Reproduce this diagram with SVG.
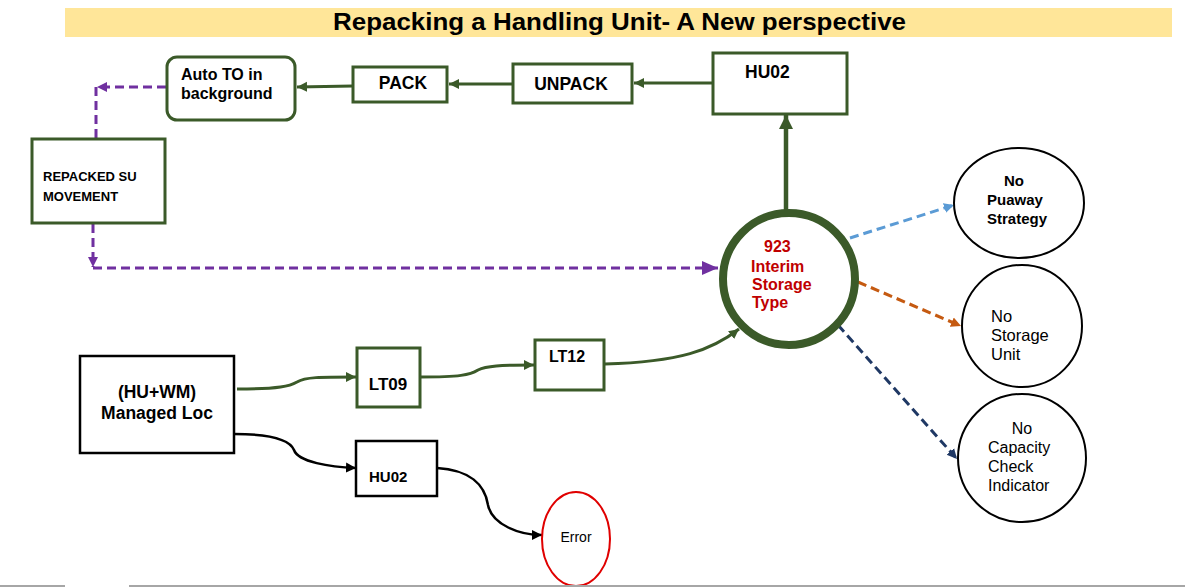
<svg xmlns="http://www.w3.org/2000/svg" width="1185" height="587" viewBox="0 0 1185 587">
<defs>
<style>
.b{font-family:"Liberation Sans",Arial,sans-serif;font-weight:bold;fill:#000}
.r{font-family:"Liberation Sans",Arial,sans-serif;fill:#000}
.red{fill:#C00000}
.gbox{fill:#fff;stroke:#3B5A29;stroke-width:3}
.kbox{fill:#fff;stroke:#000;stroke-width:2.5}
.g{fill:none;stroke:#3B5A29;stroke-width:3}
.k{fill:none;stroke:#000;stroke-width:2.5}
.p{fill:none;stroke:#7030A0;stroke-width:3;stroke-dasharray:9 5}
</style>
<marker id="ag" markerUnits="userSpaceOnUse" markerWidth="12" markerHeight="12" refX="10" refY="6" orient="auto"><path d="M0,1 L10,6 L0,11 Z" fill="#3B5A29"/></marker>
<marker id="agb" markerUnits="userSpaceOnUse" markerWidth="16" markerHeight="16" refX="14" refY="8" orient="auto"><path d="M0,1 L14,8 L0,15 Z" fill="#3B5A29"/></marker>
<marker id="ak" markerUnits="userSpaceOnUse" markerWidth="12" markerHeight="12" refX="10" refY="6" orient="auto"><path d="M0,1 L10,6 L0,11 Z" fill="#000"/></marker>
<marker id="ap" markerUnits="userSpaceOnUse" markerWidth="12" markerHeight="12" refX="10" refY="6" orient="auto"><path d="M0,1 L10,6 L0,11 Z" fill="#7030A0"/></marker>
<marker id="apb" markerUnits="userSpaceOnUse" markerWidth="18" markerHeight="18" refX="16" refY="9" orient="auto"><path d="M0,2 L16,9 L0,16 Z" fill="#7030A0"/></marker>
<marker id="ab" markerUnits="userSpaceOnUse" markerWidth="12" markerHeight="12" refX="10" refY="6" orient="auto"><path d="M0,1 L10,6 L0,11 Z" fill="#5B9BD5"/></marker>
<marker id="ao" markerUnits="userSpaceOnUse" markerWidth="12" markerHeight="12" refX="10" refY="6" orient="auto"><path d="M0,1 L10,6 L0,11 Z" fill="#C55A11"/></marker>
<marker id="an" markerUnits="userSpaceOnUse" markerWidth="12" markerHeight="12" refX="10" refY="6" orient="auto"><path d="M0,1 L10,6 L0,11 Z" fill="#1F3864"/></marker>
</defs>
<rect width="1185" height="587" fill="#fff"/>
<g id="title">
<rect x="65" y="8" width="1107" height="29" fill="#FFE699"/>
<text class="b" x="333" y="30" font-size="24" textLength="573" lengthAdjust="spacingAndGlyphs">Repacking a Handling Unit- A New perspective</text>
</g>
<g id="connectors">
<path class="g" d="M353,86 L297,87" marker-end="url(#ag)"/>
<path class="g" d="M513,84 L449,84" marker-end="url(#ag)"/>
<path class="g" d="M713,83 L634,83" marker-end="url(#ag)"/>
<path d="M786,210 L786,115" fill="none" stroke="#3B5A29" stroke-width="4.5" marker-end="url(#agb)"/>
<path class="p" d="M166,87 H97" marker-end="url(#ap)"/>
<path class="p" d="M96,87 V139"/>
<path class="p" d="M93,224 V267" marker-end="url(#ap)"/>
<path class="p" d="M93,268 H718" marker-end="url(#apb)"/>
<path d="M850,238 L954,205" fill="none" stroke="#5B9BD5" stroke-width="3" stroke-dasharray="9 5" marker-end="url(#ab)"/>
<path d="M858,282 L961,326" fill="none" stroke="#C55A11" stroke-width="3" stroke-dasharray="9 5" marker-end="url(#ao)"/>
<path d="M838,325 L957,459" fill="none" stroke="#1F3864" stroke-width="3" stroke-dasharray="9 5" marker-end="url(#an)"/>
<path class="g" d="M237,389 C280,389 290,386 297,382 C305,377 320,377 356,377" marker-end="url(#ag)"/>
<path class="g" d="M420,377 C460,377 470,375 478,370 C486,366 500,365 534,365" marker-end="url(#ag)"/>
<path class="g" d="M605,364 C680,362 712,350 739,329" marker-end="url(#ag)"/>
<path class="k" d="M234,434 C270,434 290,440 294,450 C298,462 330,467 356,468" marker-end="url(#ak)"/>
<path class="k" d="M437,468 C470,470 485,485 488,505 C492,525 520,535 542,535" marker-end="url(#ak)"/>
</g>
<g id="auto-to">
<rect class="gbox" x="167" y="57" width="128" height="63" rx="10"/>
<text class="b" x="181" y="80" font-size="16">Auto TO in</text>
<text class="b" x="181" y="99" font-size="16">background</text>
</g>
<g id="pack">
<rect class="gbox" x="353" y="67" width="94" height="35"/>
<text class="b" x="403" y="89" font-size="17.5" text-anchor="middle">PACK</text>
</g>
<g id="unpack">
<rect class="gbox" x="513" y="64" width="119" height="39"/>
<text class="b" x="571" y="90" font-size="17.5" text-anchor="middle">UNPACK</text>
</g>
<g id="hu02-top">
<rect class="gbox" x="713" y="53" width="134" height="61"/>
<text class="b" x="745" y="78" font-size="17.5">HU02</text>
</g>
<g id="repacked">
<rect class="gbox" x="32" y="139" width="133" height="84"/>
<text class="b" x="43" y="181" font-size="13">REPACKED SU</text>
<text class="b" x="43" y="201" font-size="13">MOVEMENT</text>
</g>
<g id="interim">
<circle cx="789" cy="279" r="66" fill="#fff" stroke="#3B5A29" stroke-width="8"/>
<text class="b red" x="764" y="252" font-size="16">923</text>
<text class="b red" x="751" y="272" font-size="16">Interim</text>
<text class="b red" x="752" y="290" font-size="16">Storage</text>
<text class="b red" x="752" y="308" font-size="16">Type</text>
</g>
<g id="no-putaway">
<ellipse cx="1019" cy="203" rx="65" ry="55" fill="#fff" stroke="#000" stroke-width="2"/>
<text class="b" x="1014" y="186" font-size="15" text-anchor="middle">No</text>
<text class="b" x="1015" y="205" font-size="15" text-anchor="middle">Puaway</text>
<text class="b" x="1017" y="224" font-size="15" text-anchor="middle">Strategy</text>
</g>
<g id="no-storage-unit">
<ellipse cx="1022" cy="326" rx="60" ry="61" fill="#fff" stroke="#000" stroke-width="2"/>
<text class="r" x="991" y="322" font-size="16.5">No</text>
<text class="r" x="991" y="341" font-size="16.5">Storage</text>
<text class="r" x="991" y="360" font-size="16.5">Unit</text>
</g>
<g id="no-capacity">
<circle cx="1022" cy="458" r="64" fill="#fff" stroke="#000" stroke-width="2"/>
<text class="r" x="1022" y="434" font-size="16" text-anchor="middle">No</text>
<text class="r" x="988" y="453" font-size="16">Capacity</text>
<text class="r" x="988" y="472" font-size="16">Check</text>
<text class="r" x="988" y="491" font-size="16">Indicator</text>
</g>
<g id="managed-loc">
<rect class="kbox" x="80" y="356" width="154" height="97"/>
<text class="b" x="157" y="398" font-size="17.5" text-anchor="middle">(HU+WM)</text>
<text class="b" x="157" y="419" font-size="17.5" text-anchor="middle">Managed Loc</text>
</g>
<g id="lt09">
<rect class="gbox" x="357" y="348" width="63" height="59"/>
<text class="b" x="388" y="390" font-size="17" text-anchor="middle">LT09</text>
</g>
<g id="lt12">
<rect class="gbox" x="535" y="340" width="69" height="50"/>
<text class="b" x="549" y="362" font-size="16">LT12</text>
</g>
<g id="hu02-bottom">
<rect class="kbox" x="356" y="441" width="81" height="55"/>
<text class="b" x="369" y="482" font-size="15">HU02</text>
</g>
<g id="error">
<ellipse cx="576" cy="539" rx="34" ry="47" fill="#fff" stroke="#E00000" stroke-width="2"/>
<text class="r" x="576" y="542" font-size="14" text-anchor="middle">Error</text>
</g>
<g id="baseline">
<line x1="0" y1="586" x2="65" y2="586" stroke="#A6A6A6" stroke-width="2"/>
<line x1="129" y1="586" x2="1185" y2="586" stroke="#A6A6A6" stroke-width="2"/>
</g>
</svg>
